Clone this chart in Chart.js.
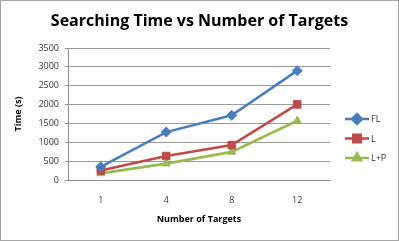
<!DOCTYPE html>
<html>
<head>
<meta charset="utf-8">
<script src="https://cdn.jsdelivr.net/npm/chart.js@4"></script>
<style>
  html, body { margin: 0; padding: 0; background: #fff; }
  #wrap { position: relative; width: 397px; height: 239px; border: 1px solid #a6a6a6; }
</style>
</head>
<body>
<div id="wrap"><canvas id="chart" width="397" height="239"></canvas></div>
<script>
// searching time (s) per number of targets
const targets = ["1", "4", "8", "12"];
const timeFL = [350, 1270, 1715, 2900];
const timeL = [250, 635, 925, 2005];
const timeLP = [175, 435, 745, 1570];
const chartTitle = "Searching Time vs Number of Targets";

const FONT = "'Open Sans', 'Liberation Sans', sans-serif";

// title centred on the whole canvas + excel-ish legend on the right
const decor = {
  id: "decor",
  afterDraw(chart) {
    const { ctx } = chart;
    ctx.save();
    ctx.fillStyle = "#000";
    ctx.font = "bold 16px " + FONT;
    ctx.textAlign = "center";
    ctx.textBaseline = "middle";
    ctx.fillText(chartTitle, chart.width / 2, 20);
    ctx.restore();

    const x0 = 344, y0 = 118, gap = 19.5;
    chart.data.datasets.forEach((ds, i) => {
      const y = y0 + i * gap;
      ctx.save();
      ctx.strokeStyle = ds.borderColor;
      ctx.lineWidth = 2.5;
      ctx.beginPath(); ctx.moveTo(x0, y); ctx.lineTo(x0 + 24, y); ctx.stroke();
      ctx.fillStyle = ds.borderColor;
      Chart.helpers.drawPoint(ctx, { pointStyle: ds.pointStyle, radius: ds.pointRadius, borderWidth: 1 }, x0 + 12, y);
      ctx.fillStyle = "#333";
      ctx.font = "9px " + FONT;
      ctx.textBaseline = "middle";
      ctx.fillText(ds.label, x0 + 26, y + 0.5);
      ctx.restore();
    });
  }
};

const mk = (label, data, color, style, r) => ({
  label, data,
  borderColor: color, backgroundColor: color,
  pointBackgroundColor: color, pointBorderColor: color,
  borderWidth: 2.6, pointStyle: style, pointRadius: r, pointHoverRadius: r,
  pointBorderWidth: 1, tension: 0, fill: false
});

new Chart(document.getElementById("chart"), {
  type: "line",
  data: {
    labels: targets,
    datasets: [
      mk("FL", timeFL, "#4a7ebb", "rectRot", 5),
      mk("L", timeL, "#be4b48", "rect", 5.3),
      mk("L+P", timeLP, "#98b954", "triangle", 4.6)
    ]
  },
  options: {
    responsive: false,
    animation: false,
    layout: { padding: { left: 0, right: 68, top: 47, bottom: 0 } },
    plugins: {
      legend: { display: false },
      tooltip: { enabled: false },
      title: { display: false }
    },
    scales: {
      x: {
        offset: true,
        grid: { display: false, drawTicks: false },
        border: { color: "#8c8c8c", width: 1 },
        ticks: { color: "#333", font: { family: FONT, size: 9 }, padding: 15 },
        title: { display: true, text: "Number of Targets", color: "#000",
                 font: { family: FONT, size: 9, weight: "bold" }, padding: { top: 6, bottom: 15 } },
        afterFit: s => { s.height = 60; }
      },
      y: {
        min: 0, max: 3500,
        ticks: { stepSize: 500, color: "#333", font: { family: FONT, size: 9 }, padding: 6,
                 callback: v => String(v) },
        grid: { color: "#9a9a9a", tickLength: 3, tickColor: "#9a9a9a" },
        border: { display: true, color: "#8c8c8c" },
        title: { display: true, text: "Time (s)", color: "#000",
                 font: { family: FONT, size: 9, weight: "bold" }, padding: { top: 12, bottom: 0 } },
        afterFit: s => { s.width = 67; }
      }
    }
  },
  plugins: [decor]
});
</script>
</body>
</html>
